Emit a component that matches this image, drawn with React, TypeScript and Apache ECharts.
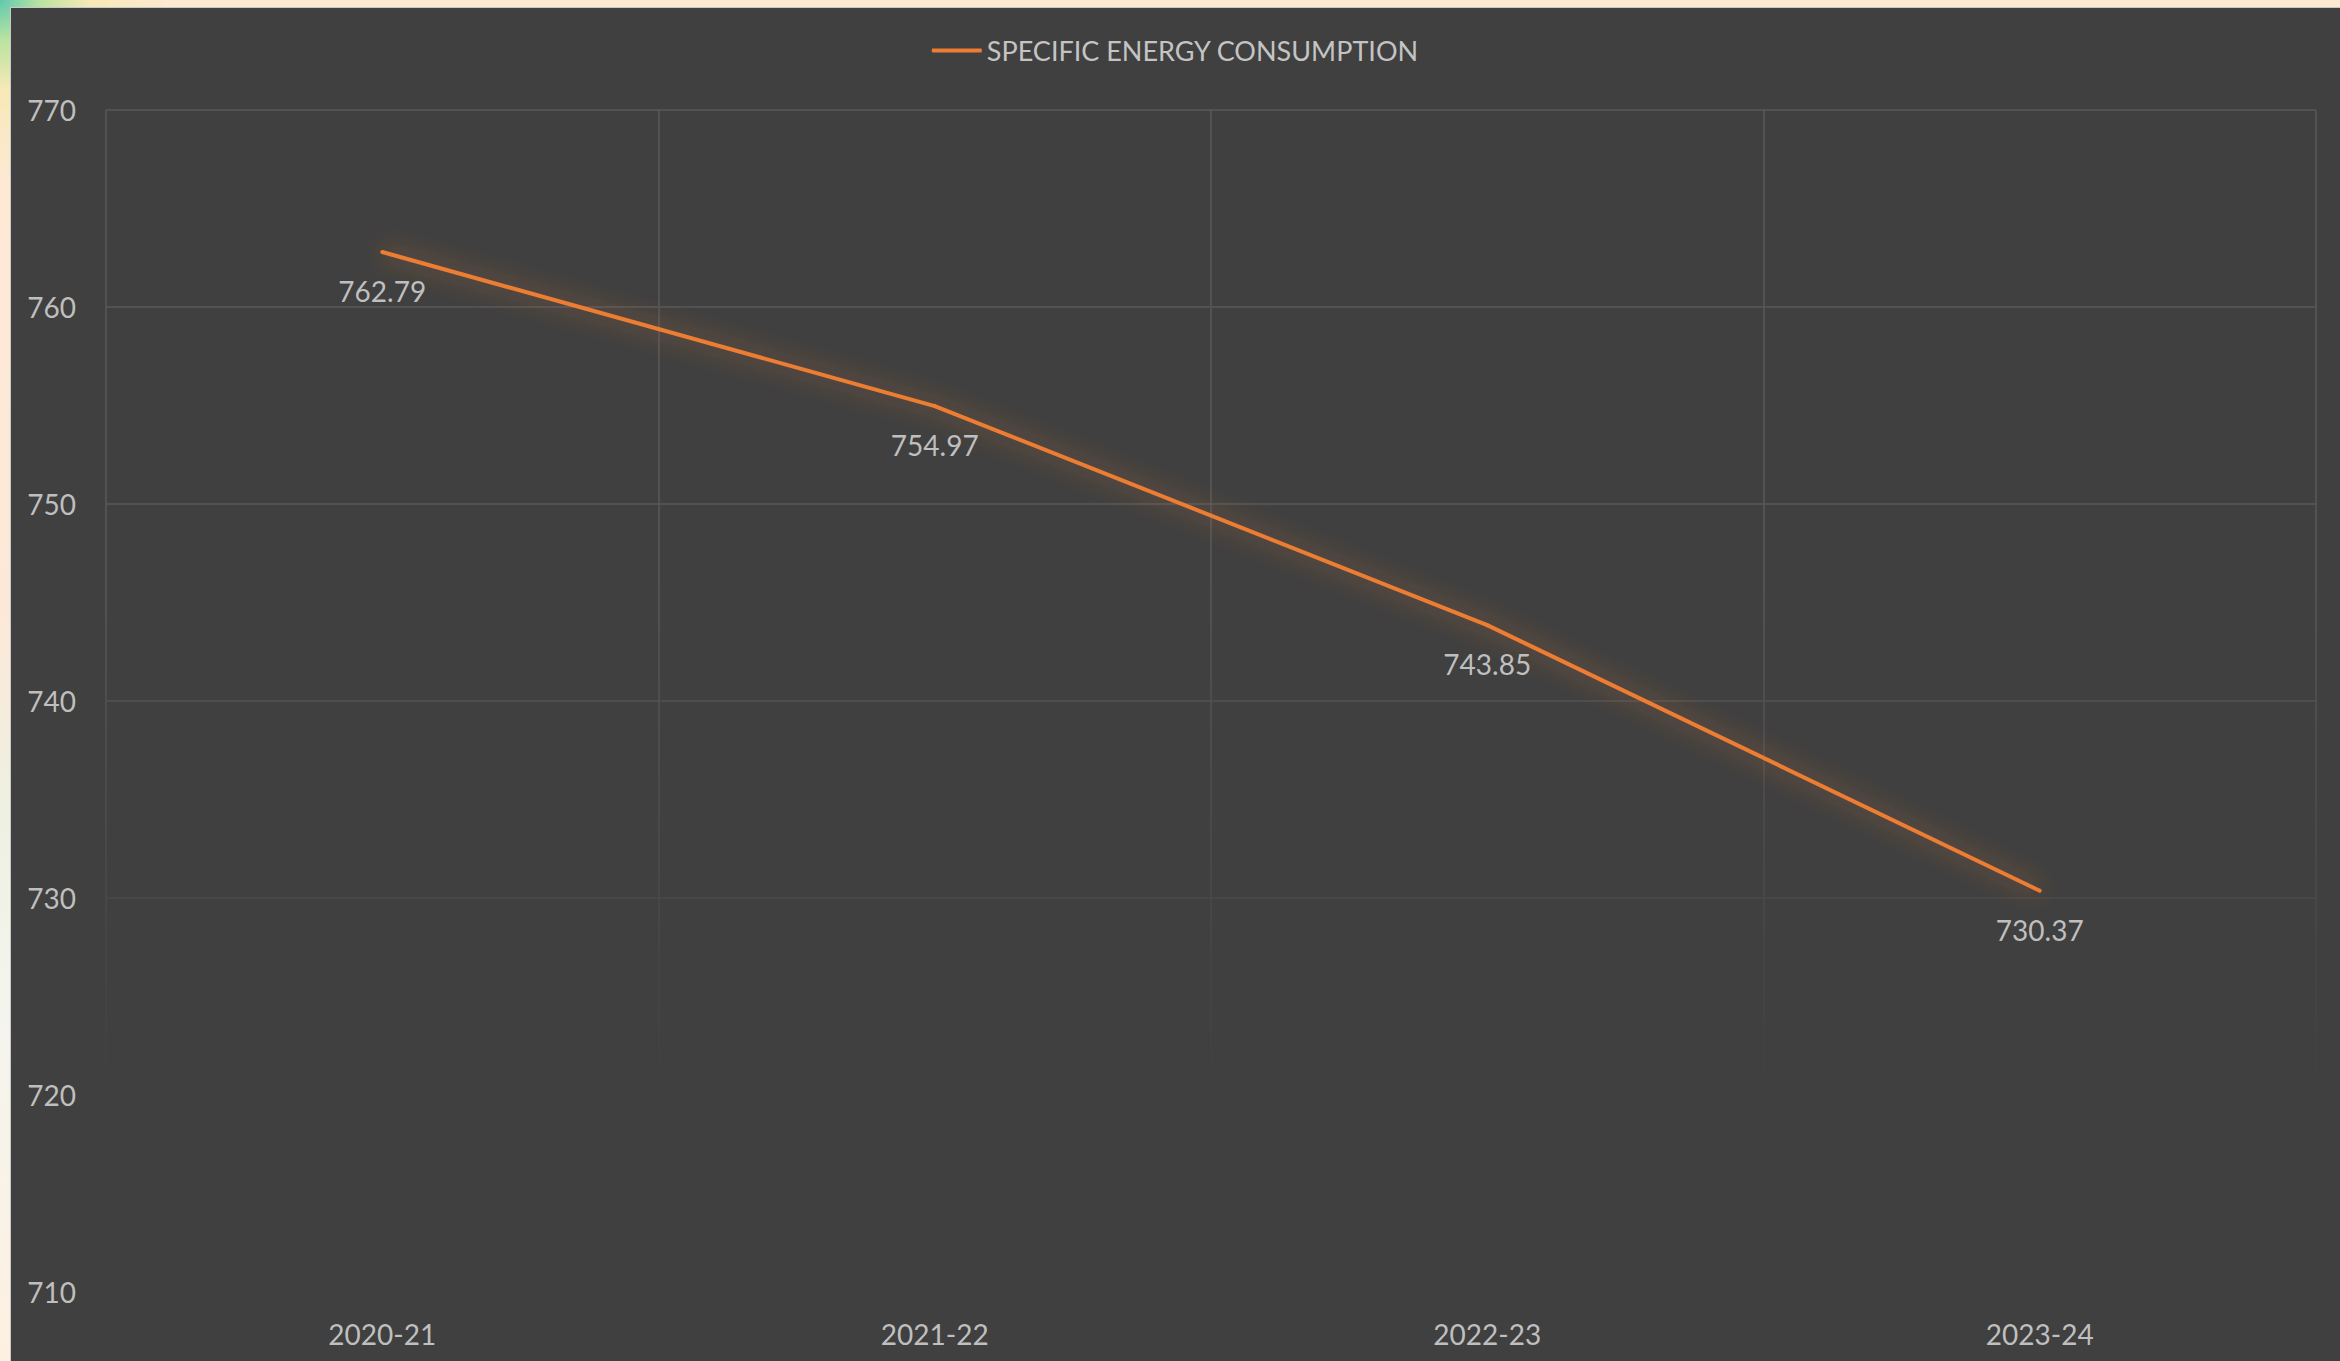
import React, { useEffect, useRef } from "react";
import * as echarts from "echarts";

const categories = ["2020-21", "2021-22", "2022-23", "2023-24"];
const seriesName = "SPECIFIC ENERGY CONSUMPTION";
const consumption = [762.79, 754.97, 743.85, 730.37];
const yMin = 710;
const yMax = 770;
const yStep = 10;

const FONT = "Lato, 'Open Sans', sans-serif";
const TEXT = "#bfbfbf";
const ORANGE = "#ED7D31";
const GRIDLINE = "#595959";
const PANEL = "#404040";

export default function App() {
  const ref = useRef<HTMLDivElement>(null);

  useEffect(() => {
    if (!ref.current) return;
    const chart = echarts.init(ref.current, undefined, { renderer: "svg" });
    const gridLeft = 95;
    const gridTop = 102;
    const gridRight = 24;
    const gridBottom = 69;
    const w = ref.current.clientWidth;
    const h = ref.current.clientHeight;

    chart.setOption({
      animation: false,
      backgroundColor: PANEL,
      textStyle: { fontFamily: FONT },
      legend: {
        top: 24,
        left: "center",
        itemWidth: 50,
        itemHeight: 4,
        itemGap: 10,
        icon: "roundRect",
        textStyle: { color: "#c4c4c4", fontSize: 27, fontFamily: FONT },
        data: [seriesName],
      },
      grid: { left: gridLeft, top: gridTop, right: gridRight, bottom: gridBottom, containLabel: false },
      xAxis: {
        type: "category",
        data: categories,
        boundaryGap: true,
        axisLine: { show: false },
        axisTick: { show: false },
        axisLabel: { color: TEXT, fontSize: 28, margin: 28, fontFamily: FONT },
        splitLine: { show: true, lineStyle: { color: GRIDLINE, width: 1.5 } },
      },
      yAxis: {
        type: "value",
        min: yMin,
        max: yMax,
        interval: yStep,
        axisLine: { show: false },
        axisTick: { show: false },
        axisLabel: { color: TEXT, fontSize: 28, margin: 30, align: "right", fontFamily: FONT },
        splitLine: { show: true, lineStyle: { color: GRIDLINE, width: 1.5 } },
      },
      graphic: [
        {
          // fades the lower part of the gridlines into the panel
          type: "rect",
          z: 1,
          silent: true,
          shape: { x: gridLeft - 4, y: 570, width: w - gridLeft - gridRight + 8, height: h - gridBottom - 570 + 4 },
          style: {
            fill: new echarts.graphic.LinearGradient(0, 0, 0, 1, [
              { offset: 0, color: "rgba(64,64,64,0)" },
              { offset: 0.72, color: "rgba(64,64,64,1)" },
              { offset: 1, color: "rgba(64,64,64,1)" },
            ]),
          },
        },
      ],
      series: [
        {
          name: seriesName,
          type: "line",
          data: consumption,
          z: 3,
          symbol: "circle",
          symbolSize: 4,
          itemStyle: { color: ORANGE },
          lineStyle: {
            color: ORANGE,
            width: 4,
            shadowColor: "rgba(237,125,49,0.75)",
            shadowBlur: 26,
          },
          label: {
            show: true,
            position: "bottom",
            distance: 23,
            color: TEXT,
            fontSize: 28,
            fontFamily: FONT,
            formatter: (p: any) => Number(p.value).toFixed(2),
          },
        },
      ],
    });
    return () => chart.dispose();
  }, []);

  return (
    <div
      style={{
        position: "fixed",
        inset: 0,
        background:
          "radial-gradient(circle at 0px 0px, #5fc9b0 0px, #b9e3a0 40px, #f7e9b8 90px, rgba(253,238,225,0) 180px), linear-gradient(to bottom, #fde9d2 0%, #fce8d8 45%, #eef1e2 60%, #f4f4ee 75%, #fdf0e0 100%)",
      }}
    >
      <div
        ref={ref}
        style={{
          position: "absolute",
          left: 10,
          top: 7,
          width: 2330,
          height: 1354,
          borderLeft: "1px solid #c8c8c8",
          borderTop: "1px solid #c8c8c8",
          boxSizing: "border-box",
        }}
      />
    </div>
  );
}
